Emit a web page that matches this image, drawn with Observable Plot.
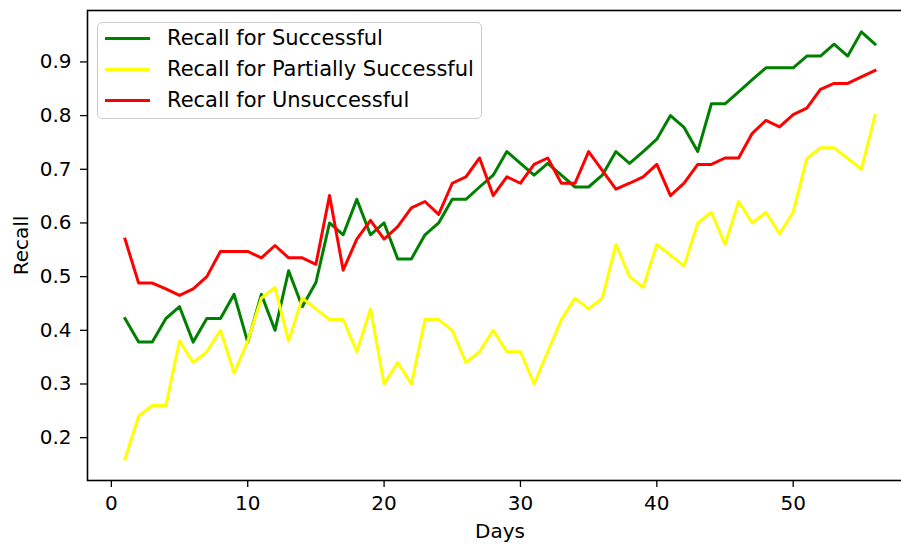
<!DOCTYPE html>
<html><head><meta charset="utf-8">
<script src="https://cdn.jsdelivr.net/npm/d3@7"></script>
<script src="https://cdn.jsdelivr.net/npm/@observablehq/plot@0.6"></script>
<style>
body{margin:0;background:#fff;}
#wrap{position:relative;width:901px;height:544px;overflow:hidden;font-family:"DejaVu Sans",sans-serif;background:#fff;}
#chart svg{max-width:none !important;}
#legend{position:absolute;left:97px;top:22px;width:383px;height:95px;border:1.3px solid #cccccc;border-radius:5px;background:rgba(255,255,255,0.8);font-size:21px;color:#000;}
.sw{position:absolute;left:7px;width:45px;height:3px;}
.lt{position:absolute;left:69px;height:24px;line-height:24px;white-space:nowrap;}
</style>
</head><body>
<div id="wrap"><div id="chart"></div><div id="legend"></div></div>
<script>
const days = [1,2,3,4,5,6,7,8,9,10,11,12,13,14,15,16,17,18,19,20,21,22,23,24,25,26,27,28,29,30,31,32,33,34,35,36,37,38,39,40,41,42,43,44,45,46,47,48,49,50,51,52,53,54,55,56];
const recallSuccessful = [0.422,0.378,0.378,0.422,0.444,0.378,0.422,0.422,0.467,0.378,0.467,0.400,0.511,0.444,0.489,0.600,0.578,0.644,0.578,0.600,0.533,0.533,0.578,0.600,0.644,0.644,0.667,0.689,0.733,0.711,0.689,0.711,0.689,0.667,0.667,0.689,0.733,0.711,0.733,0.756,0.800,0.778,0.733,0.822,0.822,0.844,0.867,0.889,0.889,0.889,0.911,0.911,0.933,0.911,0.956,0.933];
const recallPartial = [0.16,0.24,0.26,0.26,0.38,0.34,0.36,0.40,0.32,0.38,0.46,0.48,0.38,0.46,0.44,0.42,0.42,0.36,0.44,0.30,0.34,0.30,0.42,0.42,0.40,0.34,0.36,0.40,0.36,0.36,0.30,0.36,0.42,0.46,0.44,0.46,0.56,0.50,0.48,0.56,0.54,0.52,0.60,0.62,0.56,0.64,0.60,0.62,0.58,0.62,0.72,0.74,0.74,0.72,0.70,0.80];
const recallUnsuccessful = [0.570,0.488,0.488,0.477,0.465,0.477,0.500,0.547,0.547,0.547,0.535,0.558,0.535,0.535,0.523,0.651,0.512,0.570,0.605,0.570,0.593,0.628,0.640,0.616,0.674,0.686,0.721,0.651,0.686,0.674,0.709,0.721,0.674,0.674,0.733,0.698,0.663,0.674,0.686,0.709,0.651,0.674,0.709,0.709,0.721,0.721,0.767,0.791,0.779,0.802,0.814,0.849,0.860,0.860,0.872,0.884];
const seriesNames = ["Recall for Successful","Recall for Partially Successful","Recall for Unsuccessful"];
const seriesColors = ["green","yellow","red"];
const xTicks = [0,10,20,30,40,50];
const yTicks = [0.2,0.3,0.4,0.5,0.6,0.7,0.8,0.9];

const seriesValues = [recallSuccessful, recallPartial, recallUnsuccessful];
const tables = seriesValues.map(vals => days.map((d,i) => ({day:d, recall:vals[i]})));

const chart = Plot.plot({
  width: 930, height: 544,
  marginLeft: 87, marginRight: 18, marginTop: 10, marginBottom: 64,
  style: {fontFamily: "DejaVu Sans", fontSize: "20px", color: "black", background: "white", maxWidth: "none"},
  x: {domain: [-1.75, 58.75]},
  y: {domain: [0.1202, 0.9958]},
  marks: [
    ...tables.map((t,k) => Plot.line(t, {x:"day", y:"recall", stroke: seriesColors[k], strokeWidth: 3, strokeLinejoin:"round", strokeLinecap:"square"})),
    Plot.frame({stroke:"black", strokeWidth:1.6}),
    Plot.axisX({ticks: xTicks, tickSize: 7, tickPadding: 8, strokeWidth: 1.3, tickFormat: d => String(d), label: "Days", labelAnchor: "center", labelArrow: "none", labelOffset: 57}),
    Plot.axisY({ticks: yTicks, tickSize: 7, tickPadding: 9, strokeWidth: 1.3, tickFormat: d => d.toFixed(1), label: "Recall", labelAnchor: "center", labelArrow: "none", labelOffset: 74})
  ]
});
document.getElementById("chart").appendChild(chart);

const legend = document.getElementById("legend");
const rowCenters = [15, 46, 77];
seriesNames.forEach((name, k) => {
  const sw = document.createElement("div");
  sw.className = "sw";
  sw.style.top = (rowCenters[k] - 1.5) + "px";
  sw.style.background = seriesColors[k];
  legend.appendChild(sw);
  const t = document.createElement("div");
  t.className = "lt";
  t.style.top = (rowCenters[k] - 12) + "px";
  t.textContent = name;
  legend.appendChild(t);
});
</script>
</body></html>
